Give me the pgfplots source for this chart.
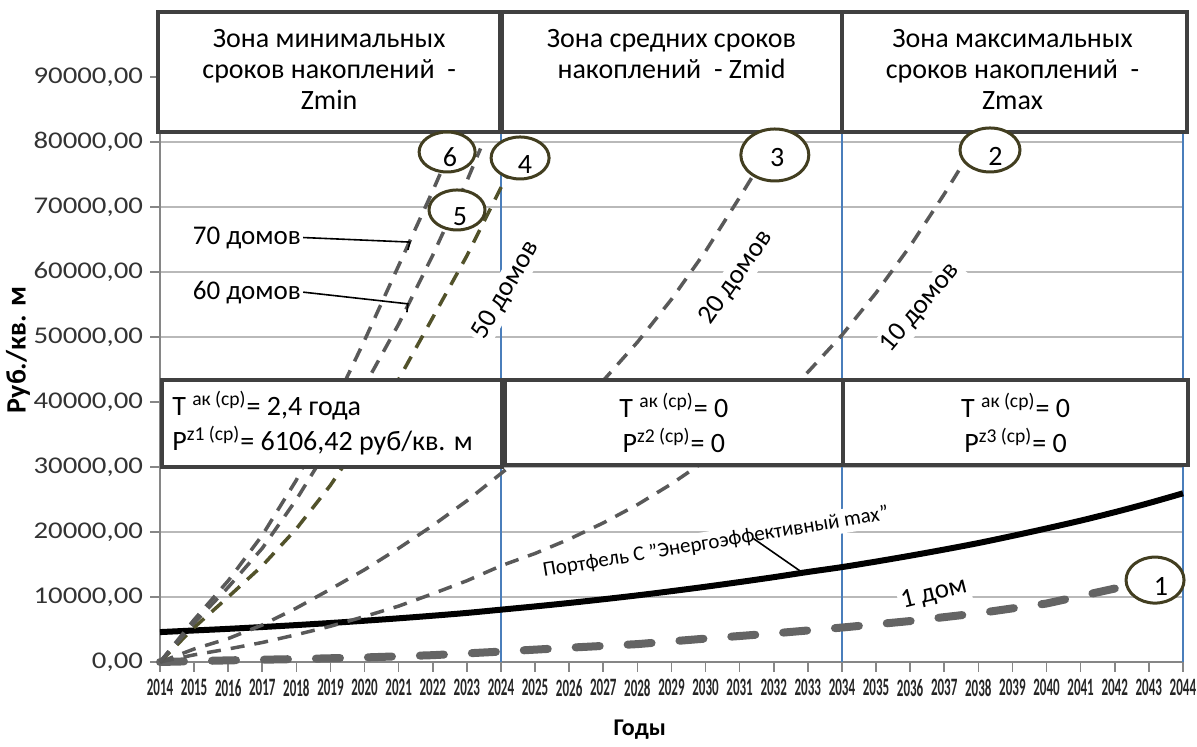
\documentclass[border=0pt]{standalone}
\usepackage{pgfplots}
\pgfplotsset{compat=1.18}
\usetikzlibrary{shapes.geometric}
\usepackage{fontspec}
\setmainfont{Carlito}
\newfontfamily\narrowbf{Carlito}[FakeStretch=0.52]
\newfontfamily\widefont{Carlito}[FakeStretch=1.2]
\definecolor{gridc}{RGB}{185,185,185}
\definecolor{axc}{RGB}{134,134,134}
\definecolor{zoneblue}{RGB}{74,126,187}
\definecolor{boxc}{RGB}{64,64,64}
\definecolor{darkg}{RGB}{89,89,89}
\definecolor{oliveg}{RGB}{82,82,42}
\definecolor{circc}{RGB}{66,62,32}
\definecolor{thickg}{RGB}{100,100,100}
\begin{document}
\begin{tikzpicture}
\useasboundingbox (-80pt,-42.5pt) rectangle (518.5pt,331pt);
\begin{axis}[
  at={(0,0)}, anchor=south west,
  scale only axis, width=511.5pt, height=325pt,
  xmin=2014, xmax=2044, ymin=0, ymax=100000,
  xtick={2014,...,2044}, ytick={0,10000,...,90000},
  axis x line*=bottom, axis y line*=left,
  axis line style={axc, line width=0.8pt},
  ymajorgrids, grid style={gridc, line width=0.75pt},
  tick align=outside, major tick length=5pt, tick style={axc, line width=0.8pt},
  /pgf/number format/assume math mode=true,
  scaled y ticks=false,
  x tick label style={font=\narrowbf\bfseries\fontsize{12.5}{12.5}\selectfont, text=black!85, /pgf/number format/1000 sep={}},
  y tick label style={font=\widefont\fontsize{12}{12}\selectfont, text=black!80,
     /pgf/number format/.cd, fixed, fixed zerofill, precision=2, use comma, 1000 sep={}},
  xlabel={Годы}, ylabel={Руб./кв. м},
  every axis x label/.style={at={(axis description cs:0.469,0)}, yshift=-34pt, anchor=center, font=\bfseries\fontsize{12}{12}\selectfont},
  every axis y label/.style={at={(axis description cs:0,0.48)}, xshift=-71pt, rotate=90, anchor=center, font=\bfseries\fontsize{14}{14}\selectfont},
  clip=false,
]
% zone lines
\draw[zoneblue, line width=1pt] (axis cs:2024,0) -- (axis cs:2024,81540);
\draw[zoneblue, line width=1pt] (axis cs:2034,0) -- (axis cs:2034,81540);
\draw[zoneblue, line width=1pt] (axis cs:2044,0) -- (axis cs:2044,81540);
% labels with white background
\node[fill=white, rotate=60, inner sep=1.5pt, font=\fontsize{13.5}{14}\selectfont] at (axis cs:2024.15,57200) {50 домов};
\node[fill=white, rotate=55, inner sep=1.5pt, font=\fontsize{13.5}{14}\selectfont] at (axis cs:2030.9,59100) {20 домов};
\node[fill=white, rotate=50, inner sep=1.5pt, font=\fontsize{13.5}{14}\selectfont] at (axis cs:2036.3,54500) {10 домов};
\node[fill=white, rotate=14, inner sep=1.5pt, font=\fontsize{13.5}{14}\selectfont] at (axis cs:2036.7,10500) {1 дом};
\node[fill=white, rotate=9.5, inner sep=1.5pt, font=\fontsize{10.5}{12}\selectfont] at (axis cs:2030.3,18400) {Портфель С "Энергоэффективный max"};
\node[anchor=east, inner sep=1pt, font=\fontsize{13.5}{14}\selectfont] at (axis cs:2018.2,65300) {70 домов};
\node[anchor=east, inner sep=1pt, font=\fontsize{13.5}{14}\selectfont] at (axis cs:2018.2,56900) {60 домов};

% 1 dom
\addplot[thickg, line width=4pt, line cap=round, dash pattern=on 12pt off 14pt] coordinates {
(2014,0) (2016,250) (2018,450) (2020,700) (2022,1050) (2024,1600) (2026,2200) (2028,2750)
(2030,3600) (2032,4400) (2034,5300) (2036,6300) (2038,7500) (2040,9000) (2042,11300)};
% Portfolio C
\addplot[black, line width=3pt, smooth] coordinates {
(2014,4600) (2015,4850) (2016,5100) (2017,5380) (2018,5680) (2019,6000) (2020,6350) (2021,6720)
(2022,7120) (2023,7550) (2024,8050) (2025,8550) (2026,9080) (2027,9650) (2028,10250) (2029,10900)
(2030,11580) (2031,12300) (2032,13050) (2033,13850) (2034,14600) (2035,15450) (2036,16350)
(2037,17300) (2038,18300) (2039,19400) (2040,20550) (2041,21750) (2042,23050) (2043,24450) (2044,25950)};
% 10 domov
\addplot[darkg, line width=1.75pt, dash pattern=on 7pt off 5pt] coordinates {
(2014,0) (2015,1100) (2016,2000) (2017,3000) (2018,4200) (2019,5500) (2020,7000) (2021,8600)
(2022,10500) (2023,12500) (2024,14800) (2025,16700) (2026,18900) (2027,21400) (2028,24200)
(2029,27400) (2030,31000) (2031,35000) (2032,39500) (2033,44600) (2034,50300) (2035,56800)
(2036,64000) (2037,72000) (2038,80500)};
% 20 domov
\addplot[darkg, line width=1.75pt, dash pattern=on 7pt off 5pt] coordinates {
(2014,0) (2015,2000) (2016,3600) (2017,5700) (2018,8300) (2019,11200) (2020,14200) (2021,17500)
(2022,21000) (2023,24800) (2024,29000) (2025,33200) (2026,38000) (2027,43300) (2028,49200)
(2029,55800) (2030,63200) (2031,71500) (2032,80000)};
% 50 domov
\addplot[oliveg, line width=1.75pt, dash pattern=on 7pt off 5pt] coordinates {
(2014,0) (2015,5300) (2016,10000) (2017,14800) (2018,20500) (2019,27200) (2020,35000)
(2021,43500) (2022,53000) (2023,62500) (2024,73000) (2024.5,78000)};
% 60 domov
\addplot[darkg, line width=1.75pt, dash pattern=on 7pt off 5pt] coordinates {
(2014,0) (2015,6000) (2016,11500) (2017,17500) (2018,25000) (2019,33500) (2020,42500)
(2021,52000) (2022,62600) (2023,74000) (2023.4,79000)};
% 70 domov
\addplot[darkg, line width=1.75pt, dash pattern=on 7pt off 5pt] coordinates {
(2014,0) (2015,6500) (2016,12500) (2017,19500) (2018,28000) (2019,38500) (2020,49500)
(2021,61000) (2022,72500) (2022.5,78500)};

% pointers
\draw[black, line width=0.8pt] (axis cs:2018.2,65300) -- (axis cs:2021.33,64600) -- (axis cs:2021.27,63400);
\draw[black, line width=0.8pt] (axis cs:2018.2,56900) -- (axis cs:2021.27,55100) -- (axis cs:2021.24,53800);
\draw[black, line width=0.8pt] (axis cs:2031.4,19000) -- (axis cs:2032.8,13900);

% top boxes
\draw[boxc, line width=1.75pt, fill=white] (axis cs:2013.94,100000) rectangle (axis cs:2023.97,81540);
\draw[boxc, line width=1.75pt, fill=white] (axis cs:2024.05,100000) rectangle (axis cs:2034,81540);
\draw[boxc, line width=1.75pt, fill=white] (axis cs:2034,100000) rectangle (axis cs:2044.12,81540);
\node[anchor=north, align=center, inner sep=0pt, font=\fontsize{14}{15.5}\selectfont] at (axis cs:2018.96,97400) {Зона минимальных\\сроков накоплений \ -\\Zmin};
\node[anchor=north, align=center, inner sep=0pt, font=\fontsize{14}{15.5}\selectfont] at (axis cs:2029.0,97400) {Зона средних сроков\\накоплений \ - Zmid};
\node[anchor=north, align=center, inner sep=0pt, font=\fontsize{14}{15.5}\selectfont] at (axis cs:2039.0,97400) {Зона максимальных\\сроков накоплений \ -\\Zmax};

% middle boxes
\draw[boxc, line width=1.75pt, fill=white] (axis cs:2014.06,43385) rectangle (axis cs:2024.03,30000);
\draw[boxc, line width=1.75pt, fill=white] (axis cs:2024.12,43385) rectangle (axis cs:2034.03,30300);
\draw[boxc, line width=1.75pt, fill=white] (axis cs:2034.03,43385) rectangle (axis cs:2044.15,30300);
\node[anchor=west, align=left, inner sep=0pt, font=\fontsize{14}{17.5}\selectfont] at (axis cs:2014.35,36770) {T \textsuperscript{ак (ср)}= 2,4 года\\P\textsuperscript{z1 (ср)}= 6106,42 руб/кв. м};
\node[align=center, inner sep=0pt, font=\fontsize{14}{17.5}\selectfont] at (axis cs:2029.07,36770) {T \textsuperscript{ак (ср)}= 0\\P\textsuperscript{z2 (ср)}= 0};
\node[align=center, inner sep=0pt, font=\fontsize{14}{17.5}\selectfont] at (axis cs:2039.09,36770) {T \textsuperscript{ак (ср)}= 0\\P\textsuperscript{z3 (ср)}= 0};

% circles
\node[draw=circc, line width=1.5pt, fill=white, ellipse, minimum width=28pt, minimum height=20pt, inner sep=0pt] at (axis cs:2022.42,78460) {};
\node[font=\fontsize{14}{14}\selectfont] at (axis cs:2022.5,77700) {6};
\node[draw=circc, line width=1.5pt, fill=white, ellipse, minimum width=29pt, minimum height=21pt, inner sep=0pt] at (axis cs:2024.56,77540) {};
\node[font=\fontsize{14}{14}\selectfont] at (axis cs:2024.7,76600) {4};
\node[draw=circc, line width=1.5pt, fill=white, ellipse, minimum width=28pt, minimum height=20pt, inner sep=0pt] at (axis cs:2022.71,69540) {};
\node[font=\fontsize{14}{14}\selectfont] at (axis cs:2022.8,68500) {5};
\node[draw=circc, line width=1.5pt, fill=white, ellipse, minimum width=34pt, minimum height=26pt, inner sep=0pt] at (axis cs:2032.03,78000) {};
\node[font=\fontsize{14}{14}\selectfont] at (axis cs:2032.1,77600) {3};
\node[draw=circc, line width=1.5pt, fill=white, ellipse, minimum width=30pt, minimum height=22pt, inner sep=0pt] at (axis cs:2038.34,78770) {};
\node[font=\fontsize{14}{14}\selectfont] at (axis cs:2038.5,77800) {2};
\node[draw=circc, line width=1.5pt, fill=white, ellipse, minimum width=29pt, minimum height=23pt, inner sep=0pt] at (axis cs:2043.18,12600) {};
\node[font=\fontsize{14}{14}\selectfont] at (axis cs:2043.35,11600) {1};
\end{axis}
\end{tikzpicture}
\end{document}
